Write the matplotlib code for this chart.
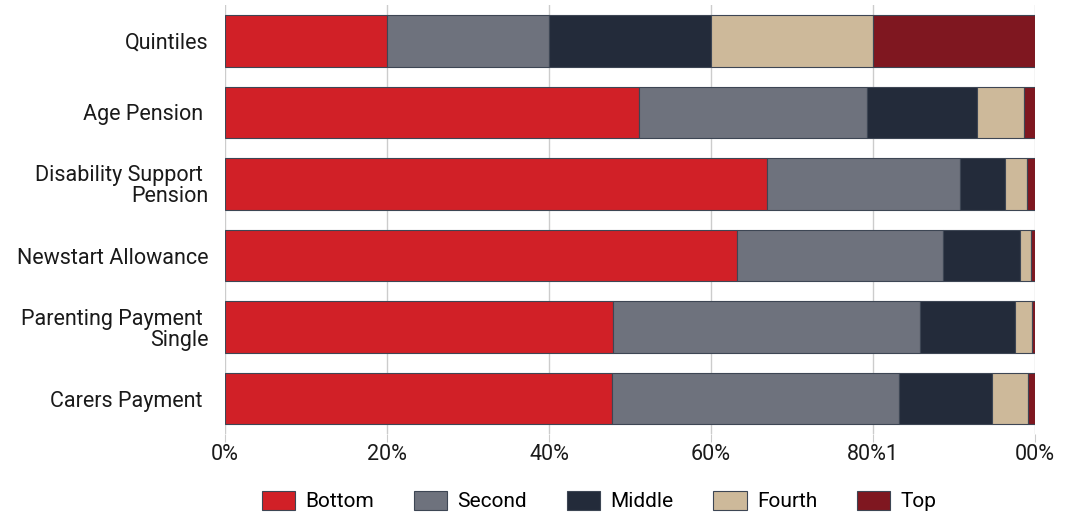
import matplotlib.pyplot as plt
import numpy as np

plt.rcParams['font.family'] = ['Roboto', 'DejaVu Sans']

categories = ['Quintiles', 'Age Pension ', 'Disability Support \nPension',
              'Newstart Allowance', 'Parenting Payment \nSingle', 'Carers Payment ']
series = ['Bottom', 'Second', 'Middle', 'Fourth', 'Top']
bottom = [20, 51.1, 66.9, 63.2, 47.9, 47.8]
second = [20, 28.2, 23.9, 25.4, 37.9, 35.4]
middle = [20, 13.5, 5.5, 9.6, 11.7, 11.5]
fourth = [20, 5.9, 2.7, 1.3, 2.2, 4.5]
top = [20, 1.3, 1.0, 0.5, 0.3, 0.8]
tick_labels = ['0%', '20%', '40%', '60%', '80%1', '00%']

colors = ['#d12027', '#6e727d', '#232b3a', '#cdb99a', '#7f1720']

fig, ax = plt.subplots(figsize=(10.68, 5.14), dpi=100)
fig.subplots_adjust(left=0.2107, right=0.969, top=0.99, bottom=0.155)

y = np.arange(len(categories))
left = np.zeros(len(categories))
for name, vals, c in zip(series, [bottom, second, middle, fourth, top], colors):
    ax.barh(y, vals, left=left, height=0.72, color=c, edgecolor='#3d4654',
            linewidth=0.8, label=name, zorder=3)
    left += np.array(vals)

ax.set_xlim(0, 100)
ax.set_ylim(len(categories) - 0.5, -0.5)
ax.set_yticks(y)
ax.set_yticklabels(categories, fontsize=15.5, color='#1a1a1a', linespacing=1.0)
ax.set_xticks([0, 20, 40, 60, 80, 100])
ax.set_xticklabels(tick_labels, fontsize=15.5, color='#1a1a1a')
ax.tick_params(axis='y', length=0, pad=12)
ax.tick_params(axis='x', length=6, color='#cccccc', pad=1)
ax.grid(axis='x', color='#cccccc', linewidth=1, zorder=0)
for s in ax.spines.values():
    s.set_visible(False)

fig.legend(*ax.get_legend_handles_labels(), loc='center', bbox_to_anchor=(0.561, 0.025),
           ncol=5, frameon=False, fontsize=15, handlelength=1.6, handleheight=1.0,
           columnspacing=1.9, handletextpad=0.5, borderpad=0, borderaxespad=0)

plt.savefig('out.png')
